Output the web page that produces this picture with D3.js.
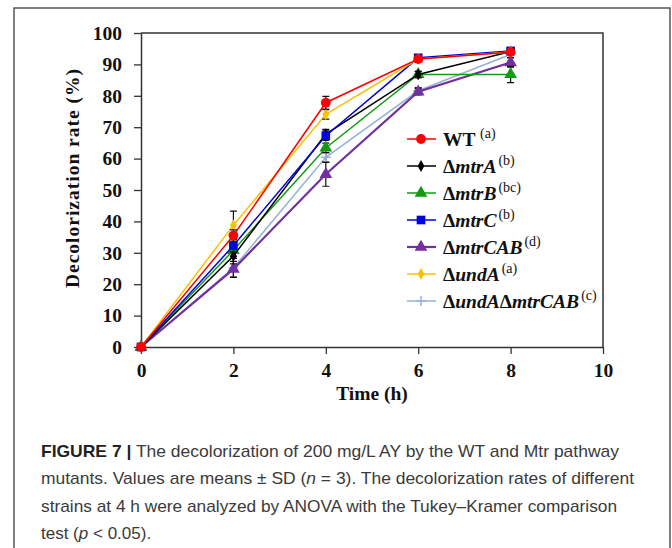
<!DOCTYPE html>
<html>
<head>
<meta charset="utf-8">
<script src="https://cdn.jsdelivr.net/npm/d3@7"></script>
<style>
  body { margin: 0; background: #fff; }
  svg { display: block; }
</style>
</head>
<body>
<script>
// time points (h)
const times = [0, 2, 4, 6, 8];

// strains, in legend order
const strains = ["WT", "mtrA", "mtrB", "mtrC", "mtrCAB", "undA", "undAmtrCAB"];
const letters = ["(a)", "(b)", "(bc)", "(b)", "(d)", "(a)", "(c)"];
const colors = ["#ff0000", "#000000", "#129a12", "#0000e0", "#7030a0", "#ffc000", "#95b3d7"];
const symbols = ["circle", "diamond", "triangle", "square", "triangle", "diamond", "plus"];

// decolorization rate (%) per strain
const wtVals = [0, 35.5, 77.8, 91.7, 93.9];
const mtrAVals = [0, 29.0, 67.8, 86.8, 94.1];
const mtrBVals = [0, 30.8, 63.4, 86.8, 86.8];
const mtrCVals = [0, 32.3, 67.3, 92.1, 94.3];
const mtrCABVals = [0, 24.8, 55.0, 81.3, 90.6];
const undAVals = [0, 38.8, 74.1, 91.7, 94.0];
const undAmtrCABVals = [0, 25.2, 60.4, 81.6, 93.2];

// standard deviations
const wtSd = [0, 1.8, 2.0, 0.8, 0.8];
const mtrASd = [0, 2.5, 1.5, 1.0, 0.8];
const mtrBSd = [0, 2.0, 1.5, 1.0, 2.6];
const mtrCSd = [0, 2.0, 1.5, 0.8, 0.8];
const mtrCABSd = [0, 2.5, 3.8, 1.0, 1.5];
const undASd = [0, 4.5, 1.5, 0.8, 0.8];
const undAmtrCABSd = [0, 3.0, 1.5, 1.0, 1.0];

const values = [wtVals, mtrAVals, mtrBVals, mtrCVals, mtrCABVals, undAVals, undAmtrCABVals];
const sds = [wtSd, mtrASd, mtrBSd, mtrCSd, mtrCABSd, undASd, undAmtrCABSd];

const xTicks = [0, 2, 4, 6, 8, 10];
const yTicks = [0, 10, 20, 30, 40, 50, 60, 70, 80, 90, 100];

const W = 672, H = 548;
const svg = d3.select("body").append("svg").attr("width", W).attr("height", H);

// outer frame
svg.append("path")
  .attr("d", "M14,548 L14,8 L670,8 L670,548")
  .attr("fill", "none")
  .attr("stroke", "#555")
  .attr("stroke-width", 1.5);

const x = d3.scaleLinear().domain([0, 10]).range([141, 603]);
const y = d3.scaleLinear().domain([0, 100]).range([347, 33]);

const serif = "'Liberation Serif', 'Times New Roman', serif";

// plot box (top + right)
svg.append("path")
  .attr("d", `M${x(0)},${y(100)} L${x(10)},${y(100)} L${x(10)},${y(0)}`)
  .attr("fill", "none")
  .attr("stroke", "#333")
  .attr("stroke-width", 1.5);

// axes
const xAxis = svg.append("g")
  .attr("transform", `translate(0,${y(0)})`)
  .call(d3.axisBottom(x).tickValues(xTicks).tickSize(7).tickPadding(9).tickSizeOuter(0));
const yAxis = svg.append("g")
  .attr("transform", `translate(${x(0)},0)`)
  .call(d3.axisLeft(y).tickValues(yTicks).tickSize(7).tickPadding(12).tickSizeOuter(0));

[xAxis, yAxis].forEach((g) => {
  g.select(".domain").attr("stroke", "#333").attr("stroke-width", 1.5);
  g.selectAll(".tick line").attr("stroke", "#333").attr("stroke-width", 1.3);
  g.selectAll(".tick text")
    .attr("fill", "#111")
    .style("font-family", serif)
    .style("font-weight", "bold")
    .style("font-size", "19.5px");
});

// axis titles
svg.append("text")
  .attr("x", 372)
  .attr("y", 400)
  .attr("text-anchor", "middle")
  .style("font-family", serif)
  .style("font-weight", "bold")
  .style("font-size", "19.5px")
  .attr("fill", "#111")
  .text("Time (h)");

svg.append("text")
  .attr("transform", "translate(79,178) rotate(-90)")
  .attr("text-anchor", "middle")
  .style("font-family", serif)
  .style("font-weight", "bold")
  .style("font-size", "19.5px")
  .style("letter-spacing", "1px")
  .attr("fill", "#111")
  .text("Decolorization rate (%)");

const symType = {
  circle: d3.symbolCircle,
  diamond: d3.symbolDiamond,
  triangle: d3.symbolTriangle,
  square: d3.symbolSquare
};
const symSize = { circle: 75, diamond: 40, triangle: 70, square: 75 };

function drawMarker(g, i, cx, cy) {
  const s = symbols[i];
  if (s === "plus") {
    g.append("path")
      .attr("d", `M${cx - 5},${cy} L${cx + 5},${cy} M${cx},${cy - 5} L${cx},${cy + 5}`)
      .attr("stroke", colors[i])
      .attr("stroke-width", 1.5);
  } else {
    g.append("path")
      .attr("transform", `translate(${cx},${cy})`)
      .attr("d", d3.symbol().type(symType[s]).size(symSize[s])())
      .attr("fill", colors[i]);
  }
}

const line = d3.line().x((d) => x(d[0])).y((d) => y(d[1]));

// draw series (last first, so WT sits on top)
const order = [6, 4, 2, 1, 3, 5, 0];
order.forEach((i) => {
  const g = svg.append("g");
  const pts = times.map((t, k) => [t, values[i][k]]);
  g.append("path")
    .datum(pts)
    .attr("d", line)
    .attr("fill", "none")
    .attr("stroke", colors[i])
    .attr("stroke-width", i === 4 ? 2.2 : 1.5);

  // error bars
  times.forEach((t, k) => {
    const sd = sds[i][k];
    if (!sd) return;
    const cx = x(t), y1 = y(values[i][k] - sd), y2 = y(values[i][k] + sd);
    g.append("path")
      .attr("d", `M${cx},${y1} L${cx},${y2} M${cx - 3.5},${y1} L${cx + 3.5},${y1} M${cx - 3.5},${y2} L${cx + 3.5},${y2}`)
      .attr("stroke", "#111")
      .attr("stroke-width", 1.2)
      .attr("fill", "none");
  });

  pts.forEach((p) => drawMarker(g, i, x(p[0]), y(p[1])));
});

// legend
const legend = svg.append("g");
strains.forEach((name, i) => {
  const ly = 139 + i * 27;
  legend.append("line")
    .attr("x1", 407).attr("x2", 436)
    .attr("y1", ly).attr("y2", ly)
    .attr("stroke", colors[i])
    .attr("stroke-width", i === 4 ? 2.2 : 1.5);
  drawMarker(legend, i, 421, ly);

  const t = legend.append("text")
    .attr("x", 443)
    .attr("y", ly + 7)
    .style("font-family", serif)
    .style("font-weight", "bold")
    .style("font-size", "19.5px")
    .attr("fill", "#111");
  if (name === "WT") {
    t.append("tspan").text("WT ");
  } else if (name === "undAmtrCAB") {
    t.append("tspan").text("Δ");
    t.append("tspan").style("font-style", "italic").text("undA");
    t.append("tspan").text("Δ");
    t.append("tspan").style("font-style", "italic").text("mtrCAB");
  } else {
    t.append("tspan").text("Δ");
    t.append("tspan").style("font-style", "italic").text(name);
  }
  t.append("tspan")
    .attr("dy", -8)
    .attr("dx", name === "WT" ? 0 : 2)
    .style("font-weight", "normal")
    .style("font-size", "14px")
    .text(letters[i]);
});

// caption
const sans = "'Liberation Sans', Arial, sans-serif";
const capLines = [
  { y: 457, len: 578, parts: [["FIGURE 7 |", "b"], [" The decolorization of 200 mg/L AY by the WT and Mtr pathway", ""]] },
  { y: 484, len: 593, parts: [["mutants. Values are means ± SD (", ""], ["n", "i"], [" = 3). The decolorization rates of different", ""]] },
  { y: 512, len: 576, parts: [["strains at 4 h were analyzed by ANOVA with the Tukey–Kramer comparison", ""]] },
  { y: 539, len: 0, parts: [["test (", ""], ["p", "i"], [" < 0.05).", ""]] }
];
capLines.forEach((c) => {
  const t = svg.append("text")
    .attr("x", 41)
    .attr("y", c.y)
    .style("font-family", sans)
    .style("font-size", "17px")
    .attr("fill", "#3a3a3a");
  if (c.len) t.attr("textLength", c.len).attr("lengthAdjust", "spacingAndGlyphs");
  c.parts.forEach(([s, f]) => {
    const ts = t.append("tspan").text(s);
    if (f === "b") ts.style("font-weight", "bold").attr("fill", "#222");
    if (f === "i") ts.style("font-style", "italic");
  });
});
</script>
</body>
</html>
